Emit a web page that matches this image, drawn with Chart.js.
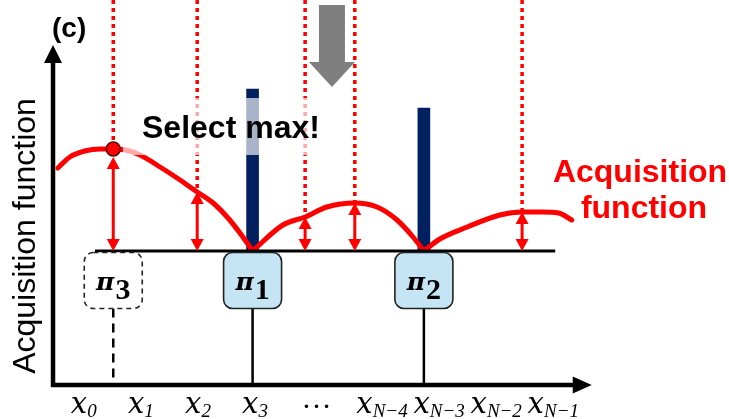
<!DOCTYPE html>
<html>
<head>
<meta charset="utf-8">
<script src="https://cdn.jsdelivr.net/npm/chart.js@4.4.1/dist/chart.umd.min.js"></script>
<style>
  html, body { margin: 0; padding: 0; background: #fff; }
  #wrap { width: 729px; height: 419px; }
</style>
</head>
<body>
<div id="wrap"><canvas id="chart-acq"></canvas></div>
<script>
// candidate grid x_0 ... x_{N-1}
const tickPos = [0, 1, 2, 3, 4, 5, 6, 7, 8];
const tickSubs = ["0", "1", "2", "3", null, "N\u22124", "N\u22123", "N\u22122", "N\u22121"];

// acquisition function, one smooth piece between the already selected points
const acqLeft = [
  { x: -0.37, y: 0.83 }, { x: -0.16, y: 0.94 }, { x: 0.1, y: 1.0 }, { x: 0.37, y: 1.02 },
  { x: 0.6, y: 1.02 }, { x: 0.81, y: 1.01 }, { x: 1.07, y: 0.96 }, { x: 1.42, y: 0.84 },
  { x: 1.77, y: 0.71 }, { x: 2.07, y: 0.59 }, { x: 2.35, y: 0.48 }, { x: 2.64, y: 0.31 },
  { x: 2.87, y: 0.14 }, { x: 3.04, y: 0.0 },
];
const acqMid = [
  { x: 3.04, y: 0.0 }, { x: 3.57, y: 0.26 }, { x: 3.96, y: 0.34 }, { x: 4.34, y: 0.44 },
  { x: 4.83, y: 0.48 }, { x: 5.22, y: 0.44 }, { x: 5.57, y: 0.31 }, { x: 5.85, y: 0.14 },
  { x: 6.04, y: 0.0 },
];
const acqRight = [
  { x: 6.04, y: 0.0 }, { x: 6.32, y: 0.12 }, { x: 6.8, y: 0.24 }, { x: 7.37, y: 0.36 },
  { x: 7.76, y: 0.39 }, { x: 8.11, y: 0.39 }, { x: 8.4, y: 0.38 }, { x: 8.63, y: 0.31 },
];

// selected points so far (bars) and the new maximum
const selectedX = [3.04, 6.04];
const selectedH = [1.62, 1.43];
const maxPoint = { x: 0.6, y: 1.02 };

// priority boxes under the baseline
const boxX = [0.6, 3.04, 6.04];
const boxSubs = ["3", "1", "2"];

// gap arrows between the baseline and the curve
const gapX = [0.6, 2.07, 3.96, 4.83, 7.76];
const gapTop = [0.94, 0.59, 0.34, 0.48, 0.39];

const RED = "#ff0000";
const NAVY = "#002060";

function seg(ctx, x1, y1, x2, y2) {
  ctx.beginPath();
  ctx.moveTo(x1, y1);
  ctx.lineTo(x2, y2);
  ctx.stroke();
}

function head(ctx, x, y, dir) {
  // dir = -1 points up, 1 points down
  ctx.beginPath();
  ctx.moveTo(x, y);
  ctx.lineTo(x - 6.5, y - dir * 12);
  ctx.lineTo(x + 6.5, y - dir * 12);
  ctx.closePath();
  ctx.fill();
}

const decor = {
  id: "decor",
  beforeDatasetsDraw(chart) {
    const { ctx, chartArea, scales } = chart;
    const sx = scales.x, sy = scales.y;
    ctx.save();
    // dotted guides from the top edge down to the curve
    ctx.strokeStyle = RED;
    ctx.lineWidth = 3.5;
    ctx.setLineDash([4, 4]);
    gapX.forEach((v, i) => {
      const X = sx.getPixelForValue(v);
      seg(ctx, X, chartArea.top, X, sy.getPixelForValue(gapTop[i]));
    });
    ctx.setLineDash([]);

    // grey "pick" arrow
    const ax = sx.getPixelForValue(4.43);
    const aTop = sy.getPixelForValue(2.46);
    const aNeck = sy.getPixelForValue(1.89);
    const aTip = sy.getPixelForValue(1.64);
    ctx.fillStyle = "#7f7f7f";
    ctx.beginPath();
    ctx.moveTo(ax - 13, aTop);
    ctx.lineTo(ax + 13, aTop);
    ctx.lineTo(ax + 13, aNeck);
    ctx.lineTo(ax + 23, aNeck);
    ctx.lineTo(ax, aTip);
    ctx.lineTo(ax - 23, aNeck);
    ctx.lineTo(ax - 13, aNeck);
    ctx.closePath();
    ctx.fill();
    ctx.restore();
  },
  afterDatasetsDraw(chart) {
    const { ctx, scales } = chart;
    const sx = scales.x, sy = scales.y;
    const base = sy.getPixelForValue(0);
    const ox = sx.getPixelForValue(-0.455);
    const oy = sy.getPixelForValue(-1.34);
    ctx.save();

    // "Select max!" text box, semi-transparent white
    ctx.font = "bold 32px 'Liberation Sans', Arial, sans-serif";
    ctx.fillStyle = "rgba(255,255,255,0.66)";
    ctx.fillRect(123, 98, 202, 57);
    ctx.fillStyle = "#000";
    ctx.textBaseline = "alphabetic";
    ctx.textAlign = "left";
    ctx.fillText("Select max!", 142, 138);

    // baseline
    ctx.strokeStyle = "#000";
    ctx.lineWidth = 3.2;
    seg(ctx, sx.getPixelForValue(0.28), base, sx.getPixelForValue(8.34), base);

    // double-headed gap arrows
    ctx.strokeStyle = RED;
    ctx.fillStyle = RED;
    ctx.lineWidth = 3;
    gapX.forEach((v, i) => {
      const X = sx.getPixelForValue(v);
      const top = sy.getPixelForValue(gapTop[i]);
      seg(ctx, X, top + 8, X, base - 8);
      head(ctx, X, top, -1);
      head(ctx, X, base, 1);
    });

    // priority boxes and their stems to the x axis
    boxX.forEach((v, i) => {
      const cx = sx.getPixelForValue(v);
      const top = base + 1.5;
      const w = 58, h = 56;
      const dashed = i === 0;
      ctx.strokeStyle = "#000";
      ctx.lineWidth = 2.5;
      ctx.setLineDash(dashed ? [9, 6] : []);
      seg(ctx, cx, top + h, cx, oy);
      ctx.beginPath();
      ctx.roundRect(cx - w / 2, top, w, h, 9);
      ctx.fillStyle = dashed ? "#fff" : "#c5e4f4";
      ctx.fill();
      ctx.lineWidth = 1.6;
      ctx.strokeStyle = "#222";
      ctx.setLineDash(dashed ? [5, 4] : []);
      ctx.stroke();
      ctx.setLineDash([]);

      ctx.fillStyle = "#000";
      ctx.font = "bold italic 25px 'DejaVu Serif', serif";
      const wPi = ctx.measureText("\u03c0").width;
      ctx.font = "bold 30px 'Liberation Serif', serif";
      const wSub = ctx.measureText(boxSubs[i]).width;
      const start = cx - (wPi + 1 + wSub) / 2;
      ctx.font = "bold italic 25px 'DejaVu Serif', serif";
      ctx.fillText("\u03c0", start, top + 37);
      ctx.font = "bold 30px 'Liberation Serif', serif";
      ctx.fillText(boxSubs[i], start + wPi + 1, top + 46);
    });

    // axes with arrow heads
    ctx.strokeStyle = "#000";
    ctx.fillStyle = "#000";
    ctx.lineWidth = 4.5;
    const yTip = sy.getPixelForValue(2.06);
    const xTip = sx.getPixelForValue(8.98);
    ctx.beginPath();
    ctx.moveTo(ox, yTip + 16);
    ctx.lineTo(ox, oy);
    ctx.lineTo(xTip - 18, oy);
    ctx.stroke();
    ctx.beginPath();
    ctx.moveTo(ox, yTip);
    ctx.lineTo(ox - 9, yTip + 18);
    ctx.lineTo(ox + 9, yTip + 18);
    ctx.closePath();
    ctx.fill();
    ctx.beginPath();
    ctx.moveTo(xTip, oy);
    ctx.lineTo(xTip - 19, oy - 8.5);
    ctx.lineTo(xTip - 19, oy + 8.5);
    ctx.closePath();
    ctx.fill();

    // tick labels x_i
    tickPos.forEach((v, i) => {
      const X = sx.getPixelForValue(v);
      if (tickSubs[i] === null) {
        ctx.font = "30px 'Liberation Serif', serif";
        ctx.textAlign = "center";
        ctx.fillText("\u2026", X + 9, 408);
        ctx.textAlign = "left";
        return;
      }
      ctx.font = "italic 29px 'DejaVu Serif', serif";
      const wx = ctx.measureText("x").width;
      ctx.fillText("x", X - wx / 2, 413);
      ctx.font = "italic 19px 'Liberation Serif', serif";
      ctx.fillText(tickSubs[i], X + wx / 2, 417);
    });

    // panel tag, axis title and curve label
    ctx.fillStyle = "#000";
    ctx.font = "bold 28px 'Liberation Sans', Arial, sans-serif";
    ctx.fillText("(c)", 52, 37);

    ctx.save();
    ctx.translate(35, 236);
    ctx.rotate(-Math.PI / 2);
    ctx.textAlign = "center";
    ctx.font = "32px 'Liberation Sans', Arial, sans-serif";
    ctx.fillText("Acquisition function", 0, 0);
    ctx.restore();

    ctx.fillStyle = RED;
    ctx.textAlign = "center";
    ctx.font = "bold 32px 'Liberation Sans', Arial, sans-serif";
    ctx.fillText("Acquisition", 640, 182);
    ctx.fillText("function", 644, 218);
    ctx.restore();
  },
};

const curveStyle = {
  type: "line",
  borderColor: RED,
  borderWidth: 5,
  borderCapStyle: "round",
  pointRadius: 0,
  cubicInterpolationMode: "monotone",
  fill: false,
  order: 1,
};

new Chart(document.getElementById("chart-acq"), {
  type: "line",
  data: {
    datasets: [
      {
        type: "scatter",
        data: [maxPoint],
        pointRadius: 7,
        pointBackgroundColor: RED,
        pointBorderColor: "#5a0000",
        pointBorderWidth: 1.5,
        showLine: false,
        order: 0,
      },
      { ...curveStyle, data: acqLeft },
      { ...curveStyle, data: acqMid },
      { ...curveStyle, data: acqRight },
      {
        type: "bar",
        data: selectedX.map((x, i) => ({ x, y: selectedH[i] })),
        backgroundColor: NAVY,
        barThickness: 12,
        borderWidth: 0,
        order: 2,
      },
    ],
  },
  options: {
    responsive: true,
    maintainAspectRatio: false,
    animation: false,
    events: [],
    layout: { padding: 0, autoPadding: false },
    plugins: { legend: { display: false }, tooltip: { enabled: false } },
    scales: {
      x: { type: "linear", min: -1.3835, max: 11.3835, offset: false, display: false },
      y: { type: "linear", min: -1.68, max: 2.51, display: false },
    },
  },
  plugins: [decor],
});
</script>
</body>
</html>
